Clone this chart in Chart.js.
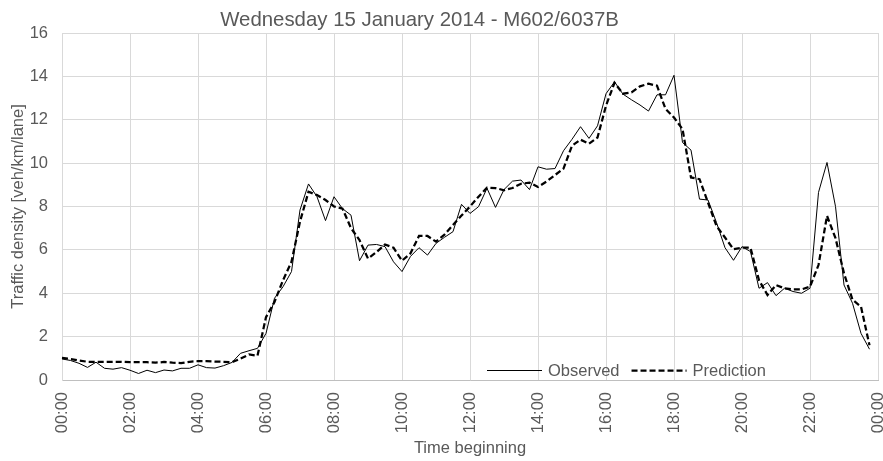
<!DOCTYPE html>
<html>
<head>
<meta charset="utf-8">
<title>Traffic density M602/6037B</title>
<script src="https://cdn.jsdelivr.net/npm/chart.js@4.4.1/dist/chart.umd.min.js"></script>
<style>
  html, body { margin: 0; padding: 0; background: #fff; }
  #wrap { width: 883px; height: 461px; }
</style>
</head>
<body>
<div id="wrap"><canvas id="chart"></canvas></div>
<script>
const chartTitle = 'Wednesday 15 January 2014 - M602/6037B';
const fontFamily = '"Liberation Sans", Arial, sans-serif';
const textColor = '#595959';

// 15-minute intervals, plus the closing 00:00 at the right edge
const times = [];
for (let h = 0; h < 24; h++) {
    ['00', '15', '30', '45'].forEach(m => times.push(String(h).padStart(2, '0') + ':' + m));
}
times.push('00:00');

const observed = [
    0.97, 0.90, 0.77, 0.58, 0.82, 0.54, 0.50, 0.57,
    0.45, 0.30, 0.45, 0.34, 0.46, 0.42, 0.54, 0.54,
    0.70, 0.57, 0.55, 0.66, 0.81, 1.23, 1.35, 1.46,
    2.15, 3.77, 4.30, 5.00, 7.84, 9.04, 8.45, 7.35,
    8.45, 7.90, 7.60, 5.50, 6.22, 6.25, 6.15, 5.45,
    5.00, 5.70, 6.10, 5.76, 6.30, 6.58, 6.84, 8.10,
    7.68, 7.99, 8.84, 7.96, 8.78, 9.17, 9.22, 8.78,
    9.83, 9.72, 9.75, 10.57, 11.10, 11.68, 11.14, 11.72,
    13.20, 13.75, 13.18, 12.92, 12.68, 12.40, 13.15, 13.15,
    14.05, 10.95, 10.60, 8.34, 8.30, 7.26, 6.10, 5.52,
    6.15, 5.92, 4.23, 4.49, 3.89, 4.23, 4.08, 4.00,
    4.23, 8.65, 10.03, 8.00, 4.38, 3.54, 2.15, 1.42
];

const prediction = [
    1.02, 0.97, 0.90, 0.84, 0.83, 0.83, 0.84, 0.84,
    0.82, 0.82, 0.82, 0.80, 0.83, 0.80, 0.78, 0.84,
    0.87, 0.87, 0.85, 0.84, 0.82, 0.98, 1.18, 1.12,
    2.90, 3.60, 4.60, 5.45, 7.30, 8.68, 8.53, 8.30,
    8.00, 7.90, 7.00, 6.45, 5.60, 5.90, 6.25, 6.10,
    5.50, 5.84, 6.64, 6.64, 6.38, 6.70, 7.15, 7.58,
    8.00, 8.45, 8.87, 8.85, 8.75, 8.85, 9.05, 9.10,
    8.90, 9.15, 9.45, 9.75, 10.80, 11.08, 10.90, 11.18,
    12.65, 13.70, 13.20, 13.26, 13.54, 13.66, 13.57, 12.50,
    12.10, 11.57, 9.34, 9.26, 8.18, 7.10, 6.57, 6.03,
    6.10, 6.10, 4.60, 3.92, 4.38, 4.23, 4.18, 4.18,
    4.30, 5.30, 7.57, 6.54, 4.92, 3.70, 3.38, 1.60
];

// Title sits a bit left of the canvas centre in the original, so draw it here
const titleLeft = {
    id: 'titleLeft',
    afterDraw(chart) {
        const { ctx, chartArea } = chart;
        ctx.save();
        ctx.font = '20.4px ' + fontFamily;
        ctx.fillStyle = textColor;
        ctx.textAlign = 'center';
        ctx.textBaseline = 'middle';
        ctx.fillText(chartTitle, chartArea.left + 357.5, 20.5);
        ctx.restore();
    }
};

// Legend drawn inside the plot, bottom right, like the original
const legendInside = {
    id: 'legendInside',
    afterDraw(chart) {
        const { ctx, chartArea } = chart;
        const y = chartArea.bottom - 9.5;
        let x = chartArea.right - 391;
        ctx.save();
        ctx.font = '16.5px ' + fontFamily;
        ctx.textBaseline = 'middle';
        ctx.fillStyle = textColor;
        chart.data.datasets.forEach(ds => {
            ctx.beginPath();
            ctx.setLineDash(ds.borderDash || []);
            ctx.lineWidth = ds.borderWidth;
            ctx.strokeStyle = ds.borderColor;
            ctx.moveTo(x, y);
            ctx.lineTo(x + 55, y);
            ctx.stroke();
            x += 61;
            ctx.fillText(ds.label, x, y + 1);
            x += ctx.measureText(ds.label).width + 12;
        });
        ctx.restore();
    }
};

new Chart(document.getElementById('chart'), {
    type: 'line',
    data: {
        labels: times,
        datasets: [
            {
                label: 'Observed',
                data: observed,
                borderColor: '#000',
                borderWidth: 1,
                pointRadius: 0,
                tension: 0,
                order: 2
            },
            {
                label: 'Prediction',
                data: prediction,
                borderColor: '#000',
                borderWidth: 2.25,
                borderDash: [6, 3],
                pointRadius: 0,
                tension: 0,
                order: 1
            }
        ]
    },
    options: {
        responsive: true,
        maintainAspectRatio: false,
        animation: false,
        devicePixelRatio: 1,
        layout: { padding: { left: 0, right: 5, top: 33, bottom: 0 } },
        plugins: {
            legend: { display: false },
            tooltip: { enabled: false },
            title: { display: false }
        },
        scales: {
            x: {
                type: 'category',
                offset: false,
                grid: { color: '#d9d9d9', drawTicks: false },
                border: { color: '#bfbfbf' },
                ticks: {
                    autoSkip: false,
                    maxRotation: 90,
                    minRotation: 90,
                    padding: 12,
                    color: textColor,
                    font: { family: fontFamily, size: 16.5 },
                    callback: function (val, i) {
                        return i % 8 === 0 ? this.getLabelForValue(val) : null;
                    }
                },
                title: {
                    display: true,
                    text: 'Time beginning',
                    color: textColor,
                    font: { family: fontFamily, size: 16.5 },
                    padding: { top: 0, bottom: 3 }
                },
                afterFit: s => {
                    s.height = 81;
                    s.paddingLeft = 0;
                    s.paddingRight = 0;
                }
            },
            y: {
                min: 0,
                max: 16,
                grid: { color: '#d9d9d9', drawTicks: false },
                border: { color: '#d9d9d9' },
                ticks: {
                    stepSize: 2,
                    padding: 14,
                    color: textColor,
                    font: { family: fontFamily, size: 16.5 }
                },
                title: {
                    display: true,
                    text: 'Traffic density [veh/km/lane]',
                    color: textColor,
                    font: { family: fontFamily, size: 16.5 },
                    padding: { top: 9, bottom: 0 }
                },
                afterFit: s => {
                    s.width = 62;
                }
            }
        }
    },
    plugins: [titleLeft, legendInside]
});
</script>
</body>
</html>
